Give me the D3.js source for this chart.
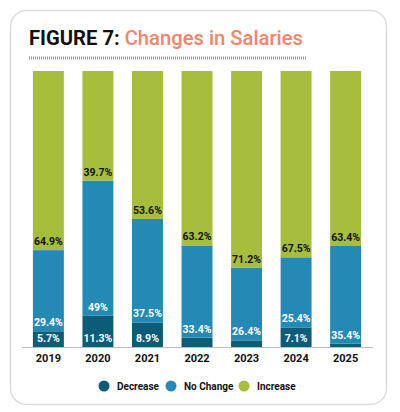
<!DOCTYPE html>
<html>
<head>
<meta charset="utf-8">
<script src="https://cdn.jsdelivr.net/npm/d3@7"></script>
<style>
  body { margin: 0; background: #fff; }
  svg { display: block; }
</style>
</head>
<body>
<svg id="chart" width="400" height="412"></svg>
<script>
// data
var years = ['2019', '2020', '2021', '2022', '2023', '2024', '2025'];
var decrease = [5.7, 11.3, 8.9, 3.4, 2.4, 7.1, 1.2];
var noChange = [29.4, 49, 37.5, 33.4, 26.4, 25.4, 35.4];
var increase = [64.9, 39.7, 53.6, 63.2, 71.2, 67.5, 63.4];
var seriesNames = ['Decrease', 'No Change', 'Increase'];
var showLabel = [
	[true, true, true, false, false, true, false],
	[true, true, true, true, true, true, true],
	[true, true, true, true, true, true, true]
];

var colors = ['#0c5b79', '#2589b6', '#a7be3d'];
var labelColors = ['#fff', '#fff', '#111'];

var svg = d3.select('#chart');

// card
svg.append('rect')
	.attr('x', 10.5).attr('y', 10.5)
	.attr('width', 376).attr('height', 394)
	.attr('rx', 16)
	.attr('fill', '#fff')
	.attr('stroke', '#dcdcdc')
	.attr('stroke-width', 1.5);

// title
var title = svg.append('text')
	.attr('x', 29).attr('y', 45)
	.attr('font-family', 'Roboto, sans-serif')
	.attr('font-size', 21)
	.attr('textLength', 274)
	.attr('lengthAdjust', 'spacingAndGlyphs');
title.append('tspan').attr('font-weight', 700).attr('fill', '#111').text('FIGURE 7: ');
title.append('tspan').attr('font-weight', 500).attr('fill', '#f2856a').text('Changes in Salaries');

svg.append('line')
	.attr('x1', 29).attr('x2', 306)
	.attr('y1', 58).attr('y2', 58)
	.attr('stroke', '#9a9a9a')
	.attr('stroke-width', 3)
	.attr('stroke-dasharray', '1,1');

// scales
var x = d3.scaleBand()
	.domain(years)
	.range([23, 371])
	.paddingInner(0.375)
	.paddingOuter(0.2);

var y = d3.scaleLinear()
	.domain([0, 100])
	.range([347, 71]);

var table = years.map(function (yr, i) {
	return { year: yr, Decrease: decrease[i], 'No Change': noChange[i], Increase: increase[i], idx: i };
});

var stacked = d3.stack().keys(seriesNames)(table);

var layers = svg.append('g').selectAll('g')
	.data(stacked)
	.join('g')
	.attr('fill', function (d, i) { return colors[i]; });

layers.selectAll('rect')
	.data(function (d) { return d; })
	.join('rect')
	.attr('x', function (d) { return x(d.data.year); })
	.attr('width', x.bandwidth())
	.attr('y', function (d) { return y(d[1]); })
	.attr('height', function (d) { return y(d[0]) - y(d[1]); });

// labels
stacked.forEach(function (layer, si) {
	svg.append('g').selectAll('text')
		.data(layer.filter(function (d) { return showLabel[si][d.data.idx]; }))
		.join('text')
		.attr('x', function (d) { return x(d.data.year) + x.bandwidth() / 2; })
		.attr('y', function (d) { return y(d[0]) - 5; })
		.attr('text-anchor', 'middle')
		.attr('font-family', 'Roboto, sans-serif')
		.attr('font-weight', 700)
		.attr('font-size', 10.5)
		.attr('fill', labelColors[si])
		.text(function (d) { return d.data[layer.key] + '%'; });
});

// axis
var xAxis = svg.append('g')
	.attr('transform', 'translate(0,' + y(0) + ')')
	.call(d3.axisBottom(x).tickSize(0).tickPadding(7));
xAxis.select('.domain')
	.attr('d', 'M22,0.5H373')
	.attr('stroke', '#bdbdbd');
xAxis.selectAll('text')
	.attr('font-family', 'Roboto, sans-serif')
	.attr('font-weight', 700)
	.attr('font-size', 11)
	.attr('fill', '#111');

// legend
var legendX = [104, 171, 244];
var legend = svg.append('g').selectAll('g')
	.data(seriesNames)
	.join('g')
	.attr('transform', function (d, i) { return 'translate(' + legendX[i] + ',386)'; });
legend.append('circle')
	.attr('r', 5.5)
	.attr('fill', function (d, i) { return colors[i]; });
legend.append('text')
	.attr('x', 13)
	.attr('y', 3.5)
	.attr('font-family', 'Roboto, sans-serif')
	.attr('font-weight', 700)
	.attr('font-size', 10)
	.attr('fill', '#111')
	.text(function (d) { return d; });
</script>
</body>
</html>
